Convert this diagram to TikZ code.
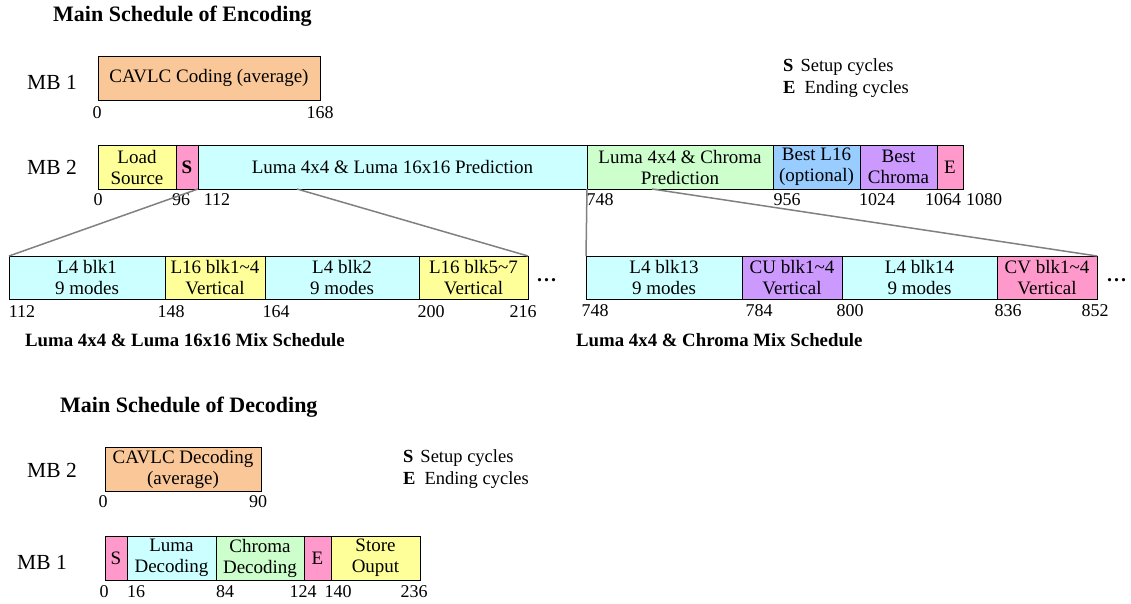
\documentclass[tikz,border=0pt]{standalone}
\usepackage{fontspec}
\setmainfont{Liberation Serif}
\usetikzlibrary{calc}

\definecolor{cOrange}{RGB}{250,200,152}
\definecolor{cYellow}{RGB}{255,255,153}
\definecolor{cPink}{RGB}{255,153,204}
\definecolor{cCyan}{RGB}{204,255,255}
\definecolor{cGreen}{RGB}{204,255,204}
\definecolor{cBlue}{RGB}{153,204,255}
\definecolor{cPurple}{RGB}{204,153,255}
\definecolor{cLink}{RGB}{128,128,128}

% one block of a schedule: name, left, right, top, bottom, fill, text
\newcommand{\seg}[7]{%
  \pgfmathsetmacro{\segw}{#3-#2}%
  \pgfmathsetmacro{\segh}{#5-#4}%
  \node[segbox,fill=#6,minimum width=\segw pt,minimum height=\segh pt]
    (#1) at ({(#2+#3)/2},{(#4+#5)/2}) {#7};}

\tikzset{
  segbox/.style={draw=black,line width=1pt,inner sep=0pt,outer sep=0pt,
    align=center,font=\fontsize{19}{21}\selectfont},
  num/.style={inner sep=0pt,font=\fontsize{18}{18}\selectfont},
  mb/.style={inner sep=0pt,anchor=west,font=\fontsize{21.5}{22}\selectfont},
  title/.style={inner sep=0pt,anchor=west,font=\fontsize{22}{24}\selectfont\bfseries},
  subtitle/.style={inner sep=0pt,anchor=west,font=\fontsize{18.8}{22}\selectfont\bfseries},
  legend/.style={inner sep=0pt,anchor=west,font=\fontsize{18.5}{21}\selectfont},
  dots/.style={inner sep=0pt,anchor=base west,font=\fontsize{20}{21}\selectfont\bfseries},
  link/.style={draw=cLink,line width=1.5pt},
}

\begin{document}
\begin{tikzpicture}[x=1pt,y=-1pt]
\useasboundingbox (0,0) rectangle (1131,603);

% ---------------- encoding ----------------
\node[title] (enctitle) at (53,16) {Main Schedule of Encoding};

\node[mb] (encmbA) at (27,82) {MB 1};
\seg{cavlc}{98}{320}{56}{100}{cOrange}{CAVLC Coding (average)}
\node[num] (ea0) at (97,113) {0};
\node[num] (ea1) at (320,113) {168};

\node[legend] (encS) at (783,67) {\textbf{S}\hspace{7pt}Setup cycles};
\node[legend] (encE) at (783,89) {\textbf{E}\hspace{9pt}Ending cycles};

\node[mb] (encmbB) at (27,167) {MB 2};
\seg{load}{98}{176}{145}{189}{cYellow}{Load\\Source}
\seg{setup}{176}{198}{145}{189}{cPink}{\textbf{S}}
\seg{luma}{198}{587}{145}{189}{cCyan}{Luma 4x4 \& Luma 16x16 Prediction}
\seg{chroma}{587}{773}{145}{189}{cGreen}{Luma 4x4 \& Chroma\\Prediction}
\seg{bestl}{773}{860}{145}{189}{cBlue}{Best L16\\(optional)}
\seg{bestc}{860}{937}{145}{189}{cPurple}{Best\\Chroma}
\seg{ending}{937}{963}{145}{189}{cPink}{E}
\node[num] (eb0) at (98,200) {0};
\node[num] (eb1) at (181,200) {96};
\node[num] (eb2) at (217,200) {112};
\node[num] (eb3) at (600,200) {748};
\node[num] (eb4) at (787,200) {956};
\node[num] (eb5) at (877,200) {1024};
\node[num] (eb6) at (943,200) {1064};
\node[num] (eb7) at (984,200) {1080};

% luma 4x4 / luma 16x16 interleaving
\seg{lfa}{9}{165}{256}{299}{cCyan}{L4 blk1\\9 modes}
\seg{lsa}{165}{265}{256}{299}{cYellow}{L16 blk1\textasciitilde4\\Vertical}
\seg{lfb}{265}{419}{256}{299}{cCyan}{L4 blk2\\9 modes}
\seg{lsb}{419}{528}{256}{299}{cYellow}{L16 blk5\textasciitilde7\\Vertical}
\node[dots] (ldots) at (537,281) {.\hspace{2pt}.\hspace{2pt}.};
\node[num] (lc0) at (22,312) {112};
\node[num] (lc1) at (171,312) {148};
\node[num] (lc2) at (276,312) {164};
\node[num] (lc3) at (431,312) {200};
\node[num] (lc4) at (523,312) {216};

% luma 4x4 / chroma interleaving
\seg{cfa}{586}{742}{256}{299}{cCyan}{L4 blk13\\9 modes}
\seg{cu}{742}{842}{256}{299}{cPurple}{CU blk1\textasciitilde4\\Vertical}
\seg{cfb}{842}{997}{256}{299}{cCyan}{L4 blk14\\9 modes}
\seg{cv}{997}{1097}{256}{299}{cPink}{CV blk1\textasciitilde4\\Vertical}
\node[dots] (cdots) at (1107,281) {.\hspace{2pt}.\hspace{2pt}.};
\node[num] (cc0) at (595,311) {748};
\node[num] (cc1) at (759,311) {784};
\node[num] (cc2) at (850,311) {800};
\node[num] (cc3) at (1008,311) {836};
\node[num] (cc4) at (1095,311) {852};

% zoom lines from the main schedule to the detailed ones
\coordinate (lsplit) at (297,189);
\coordinate (csplit) at (652,189);
\draw[link] (setup.south east) -- (lfa.north west);
\draw[link] (lsplit) -- (lsb.north east);
\draw[link] (chroma.south west) -- (cfa.north west);
\draw[link] (csplit) -- (cv.north east);

\node[subtitle] (lmix) at (25,340) {Luma 4x4 \& Luma 16x16 Mix Schedule};
\node[subtitle] (cmix) at (576,340) {Luma 4x4 \& Chroma Mix Schedule};

% ---------------- decoding ----------------
\node[title] (dectitle) at (60,407) {Main Schedule of Decoding};

\node[mb] (decmbB) at (27,470) {MB 2};
\seg{cavlcd}{105}{261}{447}{491}{cOrange}{CAVLC Decoding\\(average)}
\node[num] (da0) at (103,502) {0};
\node[num] (da1) at (258,502) {90};

\node[legend] (decS) at (403,458) {\textbf{S}\hspace{7pt}Setup cycles};
\node[legend] (decE) at (403,480) {\textbf{E}\hspace{9pt}Ending cycles};

\node[mb] (decmbA) at (17,562) {MB 1};
\seg{dsetup}{105}{127}{536}{580}{cPink}{S}
\seg{dluma}{127}{216}{536}{580}{cCyan}{Luma\\Decoding}
\seg{dchroma}{216}{304}{536}{580}{cGreen}{Chroma\\Decoding}
\seg{dending}{304}{331}{536}{580}{cPink}{E}
\seg{dstore}{331}{420}{536}{580}{cYellow}{Store\\Ouput}
\node[num] (db0) at (104,592) {0};
\node[num] (db1) at (136,592) {16};
\node[num] (db2) at (225,592) {84};
\node[num] (db3) at (303,592) {124};
\node[num] (db4) at (338,592) {140};
\node[num] (db5) at (414,592) {236};
\end{tikzpicture}
\end{document}
